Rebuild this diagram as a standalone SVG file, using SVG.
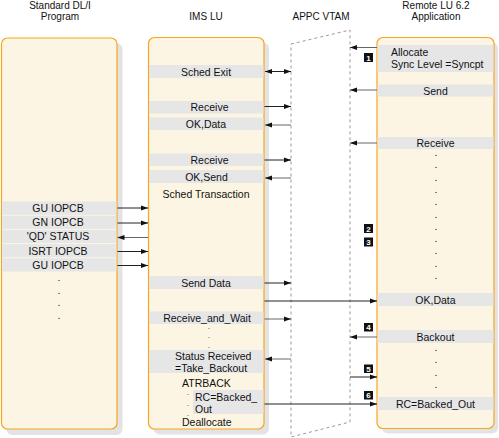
<svg xmlns="http://www.w3.org/2000/svg" width="499" height="438" viewBox="0 0 499 438">
<style>
text{font-family:"Liberation Sans",Arial,sans-serif;fill:#111}
.t{font-size:10px;text-anchor:middle}
.b{font-size:10.5px;text-anchor:middle}
.s{font-size:10.5px}
.d{font-size:7px;text-anchor:middle;font-weight:bold}
.dd{font-size:5px;text-anchor:middle;font-weight:bold}
.box{fill:#fdf5e4;stroke:#f5a623;stroke-width:1.2}
.sh{fill:#e3e3e3}
.bar{fill:#e6e6e6}
.ln{stroke:#222;stroke-width:1;fill:none}
.g{stroke:#666}
.vt{stroke:#9a9a9a;stroke-width:1;stroke-dasharray:3,3;fill:none}
.bg{fill:#111}
.bn{font-size:8px;font-weight:bold;fill:#fff;text-anchor:middle}
</style>
<defs>
<marker id="ah" markerWidth="7" markerHeight="6" refX="7" refY="3" orient="auto" markerUnits="userSpaceOnUse"><path d="M0,0.5 L7,3 L0,5.5 z" fill="#111"/></marker>
<marker id="as" markerWidth="7" markerHeight="6" refX="0" refY="3" orient="auto" markerUnits="userSpaceOnUse"><path d="M7,0.5 L0,3 L7,5.5 z" fill="#111"/></marker>
</defs>

<text class="t" x="60" y="8.5">Standard DL/I</text>
<text class="t" x="60" y="20">Program</text>
<text class="t" x="206" y="20">IMS LU</text>
<text class="t" x="321" y="20">APPC VTAM</text>
<text class="t" x="436" y="8.5">Remote LU 6.2</text>
<text class="t" x="436" y="20">Application</text>

<g id="vtam">
<path class="vt" d="M291,44 L350,30 L350,422 L291,437 Z"/>
</g>

<g id="program">
<rect class="sh" x="6.5" y="43" width="116" height="392" rx="6"/>
<rect class="box" x="1.5" y="38" width="115.5" height="391" rx="6"/>
<rect class="bar" x="2.1" y="201.5" width="114.3" height="13.2"/>
<rect class="bar" x="2.1" y="215.7" width="114.3" height="13.2"/>
<rect class="bar" x="2.1" y="229.9" width="114.3" height="13.2"/>
<rect class="bar" x="2.1" y="244.1" width="114.3" height="13.2"/>
<rect class="bar" x="2.1" y="258.3" width="114.3" height="13.2"/>
<text class="b" x="58" y="212">GU IOPCB</text>
<text class="b" x="58" y="226.2">GN IOPCB</text>
<text class="b" x="58" y="240.4">'QD' STATUS</text>
<text class="b" x="58" y="254.6">ISRT IOPCB</text>
<text class="b" x="58" y="268.8">GU IOPCB</text>
<text class="d" x="59" y="280.5">.</text>
<text class="d" x="59" y="294">.</text>
<text class="d" x="59" y="306">.</text>
<text class="d" x="59" y="318.5">.</text>
</g>

<g id="imslu">
<rect class="sh" x="153.5" y="42.5" width="115.5" height="392" rx="6"/>
<rect class="box" x="148.5" y="37.5" width="115.5" height="391.5" rx="6"/>
<rect class="bar" x="149.1" y="65" width="114.3" height="13"/>
<rect class="bar" x="149.1" y="101" width="114.3" height="12.5"/>
<rect class="bar" x="149.1" y="117.5" width="114.3" height="12.5"/>
<rect class="bar" x="149.1" y="153.5" width="114.3" height="12.5"/>
<rect class="bar" x="149.1" y="170" width="114.3" height="13"/>
<rect class="bar" x="149.1" y="276" width="114.3" height="13"/>
<rect class="bar" x="149.1" y="311.5" width="114.3" height="12.5"/>
<rect class="bar" x="149.1" y="350" width="114.3" height="23"/>
<rect class="bar" x="193" y="390" width="70.4" height="24"/>
<text class="b" x="206" y="75.5">Sched Exit</text>
<text class="b" x="209.5" y="111">Receive</text>
<text class="b" x="206" y="127.5">OK,Data</text>
<text class="b" x="209.5" y="163.5">Receive</text>
<text class="b" x="206.5" y="180.5">OK,Send</text>
<text class="b" x="206" y="197.5">Sched Transaction</text>
<text class="b" x="206" y="286.5">Send Data</text>
<text class="b" x="207" y="321.5">Receive_and_Wait</text>
<text class="dd" x="209" y="328.5">.</text>
<text class="dd" x="209" y="338">.</text>
<text class="dd" x="209" y="348">.</text>
<text class="s" x="175" y="360">Status Received</text>
<text class="s" x="175" y="372">=Take_Backout</text>
<text class="s" x="182" y="387">ATRBACK</text>
<text class="s" x="195" y="400.5">RC=Backed_</text>
<text class="s" x="195" y="413">Out</text>
<text class="dd" x="188" y="395">.</text>
<text class="dd" x="188" y="405.5">.</text>
<text class="dd" x="188" y="415.5">.</text>
<text class="s" x="182" y="425.5">Deallocate</text>
</g>

<g id="remote">
<rect class="sh" x="382" y="42.5" width="116" height="391" rx="6"/>
<rect class="box" x="377" y="37.5" width="117" height="391" rx="6"/>
<rect class="bar" x="377.6" y="45" width="115.8" height="27"/>
<rect class="bar" x="377.6" y="84.5" width="115.8" height="12"/>
<rect class="bar" x="377.6" y="137" width="115.8" height="12"/>
<rect class="bar" x="377.6" y="293" width="115.8" height="13"/>
<rect class="bar" x="377.6" y="330" width="115.8" height="13"/>
<rect class="bar" x="377.6" y="397" width="115.8" height="13"/>
<text class="s" x="391" y="55.5">Allocate</text>
<text class="s" x="391" y="67.5">Sync Level =Syncpt</text>
<text class="b" x="435.5" y="94.5">Send</text>
<text class="b" x="435.5" y="146.8">Receive</text>
<text class="d" x="436" y="156">.</text>
<text class="d" x="436" y="168.3">.</text>
<text class="d" x="436" y="180.6">.</text>
<text class="d" x="436" y="192.9">.</text>
<text class="d" x="436" y="205.2">.</text>
<text class="d" x="436" y="217.5">.</text>
<text class="d" x="436" y="229.8">.</text>
<text class="d" x="436" y="242.1">.</text>
<text class="d" x="436" y="254.4">.</text>
<text class="d" x="436" y="266.7">.</text>
<text class="d" x="436" y="279">.</text>
<text class="b" x="435.5" y="303.5">OK,Data</text>
<text class="b" x="435.5" y="340.5">Backout</text>
<text class="d" x="436" y="351">.</text>
<text class="d" x="436" y="363">.</text>
<text class="d" x="436" y="376">.</text>
<text class="d" x="436" y="388">.</text>
<text class="b" x="435.5" y="407.5">RC=Backed_Out</text>
</g>

<g id="badges">
<rect class="bg" x="364" y="53" width="9" height="9"/><text class="bn" x="368.5" y="60.7">1</text>
<rect class="bg" x="364" y="224" width="9" height="9"/><text class="bn" x="368.5" y="231.7">2</text>
<rect class="bg" x="364" y="237.5" width="9" height="9"/><text class="bn" x="368.5" y="245.2">3</text>
<rect class="bg" x="364" y="323" width="9" height="8.5"/><text class="bn" x="368.5" y="330.4">4</text>
<rect class="bg" x="364" y="364.5" width="9" height="8.5"/><text class="bn" x="368.5" y="371.9">5</text>
<rect class="bg" x="364" y="391" width="9" height="8.5"/><text class="bn" x="368.5" y="398.4">6</text>
</g>

<g id="connectors">
<line class="ln" x1="117.5" y1="208" x2="148" y2="208" marker-end="url(#ah)"/>
<line class="ln" x1="117.5" y1="223" x2="148" y2="223" marker-end="url(#ah)"/>
<line class="ln g" x1="148" y1="237.5" x2="117.5" y2="237.5" marker-end="url(#ah)"/>
<line class="ln" x1="117.5" y1="251.5" x2="148" y2="251.5" marker-end="url(#ah)"/>
<line class="ln" x1="117.5" y1="265.5" x2="148" y2="265.5" marker-end="url(#ah)"/>

<line class="ln" x1="265" y1="71.5" x2="291" y2="71.5" marker-start="url(#as)" marker-end="url(#ah)"/>
<line class="ln" x1="264.5" y1="106.5" x2="291" y2="106.5" marker-end="url(#ah)"/>
<line class="ln g" x1="291" y1="125" x2="265" y2="125" marker-end="url(#ah)"/>
<line class="ln" x1="264.5" y1="160" x2="291" y2="160" marker-end="url(#ah)"/>
<line class="ln g" x1="291" y1="178" x2="265" y2="178" marker-end="url(#ah)"/>
<line class="ln" x1="264.5" y1="283" x2="291" y2="283" marker-end="url(#ah)"/>
<line class="ln" x1="264.5" y1="301" x2="377" y2="301" marker-end="url(#ah)"/>
<line class="ln g" x1="264.5" y1="319" x2="291" y2="319" marker-end="url(#ah)"/>
<line class="ln g" x1="291" y1="359" x2="265" y2="359" marker-end="url(#ah)"/>
<line class="ln" x1="264.5" y1="404" x2="377" y2="404" marker-end="url(#ah)"/>

<line class="ln g" x1="377" y1="47.5" x2="350" y2="47.5" marker-end="url(#ah)"/>
<line class="ln g" x1="377" y1="90" x2="350" y2="90" marker-end="url(#ah)"/>
<line class="ln g" x1="377" y1="143" x2="350" y2="143" marker-end="url(#ah)"/>
<line class="ln g" x1="377" y1="337" x2="350" y2="337" marker-end="url(#ah)"/>
<line class="ln" x1="350" y1="377" x2="377" y2="377" marker-end="url(#ah)"/>
</g>
</svg>
